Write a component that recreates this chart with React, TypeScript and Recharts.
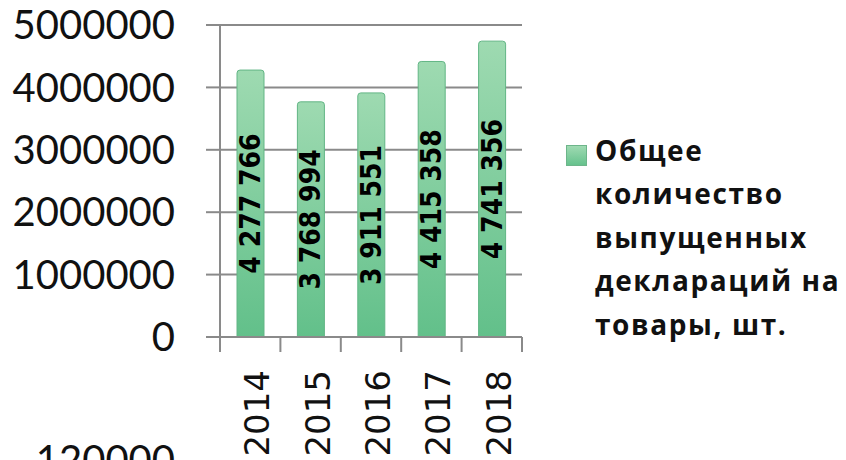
import React from "react";
import { BarChart, Bar, XAxis, YAxis, CartesianGrid, Legend, LabelList } from "recharts";

const years = ["2014", "2015", "2016", "2017", "2018"];
const declarations = [4277766, 3768994, 3911551, 4415358, 4741356];
const yTicks = [0, 1000000, 2000000, 3000000, 4000000, 5000000];
const seriesName = "Общее количество выпущенных деклараций на товары, шт.";

const data = years.map((year, i) => ({ year, value: declarations[i] }));

const W = 846;
const H = 460;
const MARGIN = { top: 25, right: 324, bottom: 0, left: 0 };
const Y_AXIS_W = 220;
const BAND = (W - MARGIN.left - MARGIN.right - Y_AXIS_W) / years.length;
const GRID = "#8a8a8a";

const fmtSpaces = (v: number) => String(v).replace(/\B(?=(\d{3})+(?!\d))/g, " ");

function YearTick(props: any) {
  const { x, y, payload, index } = props;
  const left = x - BAND / 2;
  const right = x + BAND / 2;
  const tx = x + 19;
  const ty = y + 33;
  return (
    <g>
      <line x1={left} y1={y} x2={left} y2={y + 15} stroke={GRID} strokeWidth={2} />
      {index === years.length - 1 && (
        <line x1={right} y1={y} x2={right} y2={y + 15} stroke={GRID} strokeWidth={2} />
      )}
      <text
        x={tx}
        y={ty}
        transform={`rotate(-90, ${tx}, ${ty})`}
        textAnchor="end"
        fontFamily="'DejaVu Sans'"
        fontSize={34}
        fill="#111"
      >
        {payload.value}
      </text>
    </g>
  );
}

function BarValue(props: any) {
  const { x, y, width, height, value } = props;
  const cx = x + width / 2;
  const cy = y + height / 2;
  return (
    <text
      x={cx}
      y={cy}
      transform={`rotate(-90, ${cx}, ${cy})`}
      textAnchor="middle"
      dominantBaseline="central"
      fontFamily="'DejaVu Sans Condensed', 'DejaVu Sans'"
      fontStretch="condensed"
      fontWeight="bold"
      fontSize={28}
      fill="#000"
    >
      {fmtSpaces(value)}
    </text>
  );
}

function LegendBox() {
  return (
    <div
      style={{
        position: "relative",
        width: 252,
        fontFamily: "'Open Sans'",
        fontWeight: 700,
        fontSize: 28,
        letterSpacing: "1.6px",
        lineHeight: "43.5px",
        color: "#111",
      }}
    >
      <div
        style={{
          position: "absolute",
          left: -29,
          top: 16,
          width: 19,
          height: 19,
          background: "linear-gradient(#9fdab2, #66c28d)",
          border: "1px solid #6db58a",
        }}
      />
      {seriesName}
    </div>
  );
}

export default function App() {
  return (
    <div style={{ position: "absolute", left: 0, top: 0, width: W, height: H, overflow: "hidden", background: "#fff" }}>
      <BarChart width={W} height={H} data={data} margin={MARGIN}>
        <defs>
          <linearGradient id="barFill" x1="0" y1="0" x2="0" y2="1">
            <stop offset="0%" stopColor="#9edab1" />
            <stop offset="100%" stopColor="#62c08a" />
          </linearGradient>
        </defs>
        <CartesianGrid vertical={false} stroke={GRID} strokeWidth={2} />
        <XAxis
          dataKey="year"
          height={H - 337}
          axisLine={{ stroke: GRID, strokeWidth: 2 }}
          tickLine={false}
          tickSize={0}
          tickMargin={0}
          tick={<YearTick />}
          interval={0}
        />
        <YAxis
          width={Y_AXIS_W}
          domain={[0, 5000000]}
          ticks={yTicks}
          interval={0}
          axisLine={{ stroke: GRID, strokeWidth: 2 }}
          tickLine={{ stroke: GRID, strokeWidth: 2 }}
          tickSize={14}
          tickMargin={31}
          tick={{ fontFamily: "Lato", fontSize: 40, fill: "#111" }}
        />
        <Legend
          layout="horizontal"
          verticalAlign="middle"
          align="center"
          content={<LegendBox />}
          wrapperStyle={{ left: 595, top: 128.5, right: "auto", bottom: "auto", width: 252 }}
        />
        <Bar
          dataKey="value"
          name={seriesName}
          barSize={27}
          fill="url(#barFill)"
          stroke="#62b585"
          strokeWidth={1}
          radius={[3, 3, 0, 0]}
          isAnimationActive={false}
        >
          <LabelList dataKey="value" content={<BarValue />} />
        </Bar>
      </BarChart>
      <svg width={W} height={H} style={{ position: "absolute", left: 0, top: 0, pointerEvents: "none" }}>
        <text x={175} y={474} textAnchor="end" fontFamily="Lato" fontSize={40} fill="#111">
          120000
        </text>
      </svg>
    </div>
  );
}
